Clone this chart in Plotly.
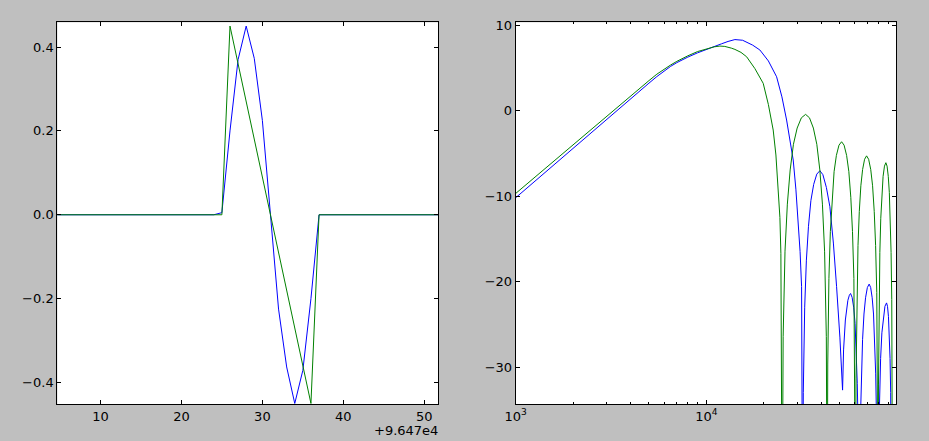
import plotly.graph_objects as go

# ---------------- data ----------------
# left panel: time samples (offset +9.647e4)
t_samples = [4, 5, 6, 7, 8, 9, 10, 11, 12, 13, 14, 15, 16, 17, 18, 19, 20, 21, 22, 23, 24,
             25, 26, 27, 28, 29, 30, 31, 32, 33, 34, 35, 36, 37, 38, 39, 40, 41, 42, 43,
             44, 45, 46, 47, 48, 49, 50, 51, 52]
blue_pulse = [0.0] * 21 + [0.005, 0.20, 0.37, 0.45, 0.373, 0.225, 0.0, -0.225, -0.363, -0.45, -0.371,
                           -0.20, 0.0] + [0.0] * 15
green_pulse = [0.0] * 22 + [0.45, 0.36, 0.27, 0.18, 0.09, 0.0, -0.09, -0.18, -0.27, -0.36, -0.45,
                            0.0] + [0.0] * 15

# right panel: magnitude responses (Hz, dB)
blue_freq = [1000, 1500, 2000, 3000, 4000, 5000, 5500, 6000, 6500, 7000, 7500, 8000, 9000,
             10000, 11000, 12000, 13000, 14125, 15500, 16300, 17500, 19100, 21163,
             23369, 24916, 26369, 27440, 28560, 29500, 30340, 31036, 31603, 31834, 31989,
             32260, 32813, 33489, 34348, 35358, 36575, 37969, 39419, 40872, 42636,
             44480, 46400, 48226, 50187, 51848,
             52478, 53630, 55273, 56284, 57107, 58184, 59281, 60293, 61176, 61917, 62593, 63094, 63354,
             63655, 64279, 65059, 66011, 67135, 68442, 69947, 71488,
             72800, 74140, 75359, 76429, 77358, 78155, 78791, 79120,
             79457, 80153, 81030, 82091, 83351, 84812, 86486, 88202,
             89214, 90254, 91186, 92004, 92706, 93302, 93790, 94033]
blue_db = [-10.2, -6.8, -4.4, -1.0, 1.4, 3.2, 3.97, 4.65, 5.17, 5.6, 5.95, 6.25, 6.75,
           7.16, 7.5, 7.8, 8.08, 8.3, 8.22, 8.0, 7.65, 7.08, 5.8,
           3.95, 1.6, -1.11, -3.3, -5.79, -9.2, -12.8, -16.5, -20.6, -28, -50,
           -33, -23, -17.5, -13.54, -10.54, -8.64, -7.44, -7.04, -7.5, -9.0,
           -11.25, -15.5, -20.6, -26.5, -32.7,
           -28, -24.5, -22.2, -21.6, -21.4, -21.85, -23.0, -24.9, -27.9, -31.9, -37.4, -47.4, -60,
           -46.3, -36.3, -30.8, -26.8, -23.8, -21.9, -20.7, -20.3,
           -20.7, -21.9, -23.8, -26.8, -30.8, -36.3, -46.3, -60,
           -48.5, -38.5, -33, -29, -26, -24.1, -22.9, -22.5,
           -22.9, -24.1, -26, -29, -33, -38.5, -48.5, -60]

green_freq = [1000, 1500, 2000, 3000, 4000, 5000, 5500, 6000, 6500, 7000, 7500, 8000, 9000,
              10000, 11000, 11786, 12500, 13523, 14125, 15200, 16270, 17985, 19880,
              21163, 22430, 23175, 23820, 24320, 24610, 24856, 25007,
              25292, 25869, 26610, 27527, 28636, 29959, 31523, 33172,
              34763, 36437, 37985, 39400, 40652, 41727, 42608, 43055,
              43352, 43958, 44729, 45673, 46795, 48119, 49648, 51227,
              52807, 54439, 55931, 57270, 58445, 59441, 60247, 60656,
              60982, 61634, 62457, 63462, 64653, 66041, 67639, 69278,
              71045, 72860, 74507, 75988, 77273, 78362, 79248, 79696,
              79989, 80580, 81335, 82251, 83332, 84578, 86000, 87457,
              88747, 90043, 91211, 92248, 93157, 93911, 94515, 94831]
green_db = [-9.7, -6.35, -4.0, -0.65, 1.75, 3.5, 4.25, 4.85, 5.33, 5.75, 6.1, 6.4, 6.9,
            7.2, 7.45, 7.54, 7.5, 7.3, 7.15, 6.8, 6.29, 4.9, 3.18,
            0.7, -2.28, -5.2, -8.9, -12.5, -16.7, -26, -50,
            -26.45, -16.45, -10.95, -6.95, -3.95, -2.05, -0.85, -0.45,
            -0.85, -2.05, -3.95, -6.95, -10.95, -16.45, -26.45, -50,
            -29.65, -19.65, -14.15, -10.15, -7.15, -5.25, -4.05, -3.65,
            -4.05, -5.25, -7.15, -10.15, -14.15, -19.65, -29.65, -50,
            -31.3, -21.3, -15.8, -11.8, -8.8, -6.9, -5.7, -5.3,
            -5.7, -6.9, -8.8, -11.8, -15.8, -21.3, -31.3, -50,
            -32.1, -22.1, -16.6, -12.6, -9.6, -7.7, -6.5, -6.1,
            -6.5, -7.7, -9.6, -12.6, -16.6, -22.1, -32.1, -50]

left_xticks = [10, 20, 30, 40, 50]
left_yticks = [-0.4, -0.2, 0.0, 0.2, 0.4]
right_xticks = [1000, 10000]
right_xticktext = ["10<sup>3</sup>", "10<sup>4</sup>"]
right_yticks = [-30, -20, -10, 0, 10]
offset_label = "+9.647e4"

# ---------------- figure ----------------
W, H = 929, 441
BLUE = "#0000ff"
GREEN = "#008000"
FONT = dict(family="DejaVu Sans", size=13, color="black")

fig = go.Figure()
fig.add_trace(go.Scatter(x=t_samples, y=blue_pulse, mode="lines",
                         line=dict(color=BLUE, width=1), xaxis="x", yaxis="y"))
fig.add_trace(go.Scatter(x=t_samples, y=green_pulse, mode="lines",
                         line=dict(color=GREEN, width=1), xaxis="x", yaxis="y"))
fig.add_trace(go.Scatter(x=blue_freq, y=blue_db, mode="lines",
                         line=dict(color=BLUE, width=1), xaxis="x2", yaxis="y2"))
fig.add_trace(go.Scatter(x=green_freq, y=green_db, mode="lines",
                         line=dict(color=GREEN, width=1), xaxis="x2", yaxis="y2"))

ax_common = dict(showline=True, linecolor="black", linewidth=1, mirror="allticks",
                 ticks="inside", ticklen=4, tickcolor="black", tickwidth=1,
                 showgrid=False, zeroline=False, tickfont=FONT, automargin=False)

y_dom = [(H - 404.3) / H, (H - 22.3) / H]

minor_vals = [m * 10 ** e for e in (3, 4) for m in range(2, 10)]

fig.update_layout(
    template="none",
    width=W, height=H,
    paper_bgcolor="#bfbfbf", plot_bgcolor="white",
    margin=dict(l=0, r=0, t=0, b=0, pad=0),
    showlegend=False,
    font=FONT,
    xaxis=dict(domain=[57.3 / W, 438.3 / W], range=[4.67, 51.73],
               tickmode="array", tickvals=left_xticks, anchor="y", **ax_common),
    yaxis=dict(domain=y_dom, range=[-0.452, 0.459], tickmode="array", tickvals=left_yticks,
               tickformat=".1f", anchor="x", **ax_common),
    xaxis2=dict(domain=[515.7 / W, 896 / W], type="log", range=[3, 4.995],
                tickmode="array", tickvals=right_xticks, ticktext=right_xticktext,
                anchor="y2",
                minor=dict(ticks="inside", ticklen=2, tickcolor="black",
                           tickmode="array", tickvals=minor_vals, showgrid=False),
                **ax_common),
    yaxis2=dict(domain=y_dom, range=[-34.36, 10.32], tickmode="array", tickvals=right_yticks,
                anchor="x2", **ax_common),
    annotations=[dict(text=offset_label, xref="paper", yref="paper",
                      x=440 / W, y=(H - 430.5) / H, xanchor="right", yanchor="middle",
                      showarrow=False, font=FONT)],
)

fig.write_html("out.html", config={"displayModeBar": False},
               post_script="document.body.style.margin='0';document.body.style.padding='0';")
